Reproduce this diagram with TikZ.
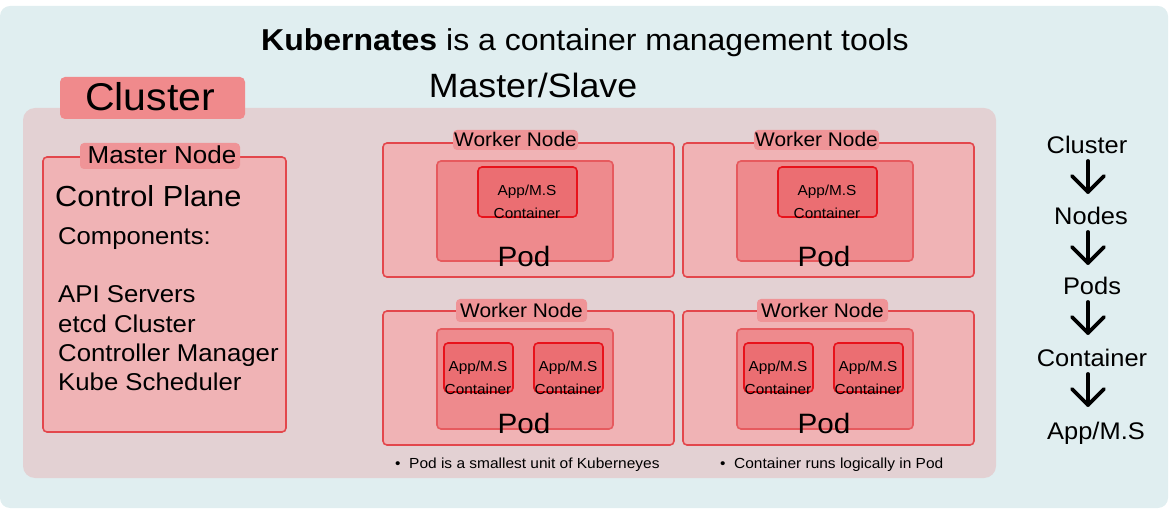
\documentclass[tikz,border=0pt]{standalone}
\usepackage{fontspec}
\setmainfont{Liberation Sans}[FakeStretch=1.06]
\definecolor{bgc}{HTML}{E0EEF0}
\definecolor{clc}{HTML}{E3D1D3}
\definecolor{cllab}{HTML}{F08A8C}
\definecolor{boxfill}{HTML}{F0B3B5}
\definecolor{boxline}{HTML}{E3474C}
\definecolor{podfill}{HTML}{EE8A8D}
\definecolor{podline}{HTML}{E65A5E}
\definecolor{ctfill}{HTML}{EB6E72}
\definecolor{ctline}{HTML}{E8121B}
\definecolor{wlab}{HTML}{EF9497}
\tikzset{
  nodebox/.style={draw=boxline,fill=boxfill,line width=1.6pt,rounded corners=4pt},
  podbox/.style={draw=podline,fill=podfill,line width=1.6pt,rounded corners=4pt},
  ctbox/.style={draw=ctline,fill=ctfill,line width=1.6pt,rounded corners=4pt},
  labbox/.style={fill=wlab,rounded corners=4pt},
  txt/.style={anchor=base,inner sep=0pt},
  hier/.style={anchor=base,inner sep=0pt,font=\fontsize{24}{26}\selectfont},
  darr/.style={line width=3.8pt,line cap=round,line join=round},
}
% #1 x, #2 y, #3 name, #4 label x offset, #5 label width, #6 label top offset, #7 label height, #8 text baseline offset
\newcommand{\worker}[8]{%
  \draw[nodebox] (#1,#2) rectangle ++(291,134);
  \fill[labbox] (#1+#4,#2+#6) rectangle ++(#5,#7);
  \node[txt,font=\fontsize{19.7}{21}\selectfont] (#3lab) at (#1+#4+#5/2,#2+#8) {Worker Node};
  \draw[podbox] (#1+54,#2+18) rectangle ++(176,100);
}
\begin{document}
\begin{tikzpicture}[x=1pt,y=-1pt]
\useasboundingbox (0,0) rectangle (1173,510);
\fill[bgc,rounded corners=10pt] (0,6) rectangle (1168,508);
\node[txt,font=\fontsize{30.2}{34}\selectfont] (title) at (585,51) {\textbf{Kubernates} is a container management tools};
\node[txt,font=\fontsize{33.7}{38}\selectfont] (ms) at (533,98) {Master/Slave};
\fill[clc,rounded corners=12pt] (23,108) rectangle (996,478);
\fill[cllab,rounded corners=5pt] (60,77) rectangle (245,119);
\node[txt,font=\fontsize{38.7}{42}\selectfont] (cluster) at (150,111) {Cluster};
% master
\draw[nodebox] (43,157) rectangle (286,432);
\fill[labbox] (80,143) rectangle (240,169);
\node[txt,font=\fontsize{24.5}{26}\selectfont] (mlab) at (162,164) {Master Node};
\node[txt,anchor=base west,font=\fontsize{29}{30}\selectfont] (cp) at (55,207) {Control Plane};
\node[txt,anchor=base west,font=\fontsize{24.2}{26}\selectfont] (comp) at (58,245) {Components:};
\node[txt,anchor=base west,font=\fontsize{24.3}{26}\selectfont] (l1) at (58,303) {API Servers};
\node[txt,anchor=base west,font=\fontsize{24.3}{26}\selectfont] (l2) at (58,333) {etcd Cluster};
\node[txt,anchor=base west,font=\fontsize{24.3}{26}\selectfont] (l3) at (58,362) {Controller Manager};
\node[txt,anchor=base west,font=\fontsize{24.3}{26}\selectfont] (l4) at (58,391) {Kube Scheduler};
% workers
\worker{383}{143}{wa}{70}{125}{-13}{20}{4}
\worker{683}{143}{wb}{71}{125}{-13}{20}{4}
\worker{383}{311}{wc}{73}{131}{-12}{23}{7}
\worker{683}{311}{wd}{74}{131}{-12}{23}{7}
% single containers
\draw[ctbox] (478,167) rectangle (577,217);
\draw[ctbox] (778,167) rectangle (877,217);
% double containers
\draw[ctbox] (444,343) rectangle (513,392);
\draw[ctbox] (534,343) rectangle (603,392);
\draw[ctbox] (744,343) rectangle (813,392);
\draw[ctbox] (834,343) rectangle (903,392);
% container texts
\foreach \cx/\by/\nm in {527/196/ca,827/196/cb,478/372/cc,568/372/cd,778/372/ce,868/372/cf}{
  \node[txt,font=\fontsize{14.5}{16}\selectfont] (\nm a) at (\cx,\by) {App/M.S};
  \node[txt,font=\fontsize{14.5}{16}\selectfont] (\nm b) at (\cx,\by+23) {Container};
}
% pod texts
\foreach \px/\py/\nm in {524/267/pa,824/267/pb,524/434/pc,824/434/pd}{
  \node[txt,font=\fontsize{28}{30}\selectfont] (\nm) at (\px,\py) {Pod};
}
\node[txt,anchor=base west,font=\fontsize{14.6}{16}\selectfont] (b1) at (395,468) {\textbullet\ \ Pod is a smallest unit of Kuberneyes};
\node[txt,anchor=base west,font=\fontsize{14.6}{16}\selectfont] (b2) at (720,468) {\textbullet\ \ Container runs logically in Pod};
% hierarchy
\node[hier] (h1) at (1087,154) {Cluster};
\node[hier] (h2) at (1091,225) {Nodes};
\node[hier] (h3) at (1092,295) {Pods};
\node[hier] (h4) at (1092,367) {Container};
\node[hier] (h5) at (1096,440) {App/M.S};
\foreach \a/\b in {h1/h2,h2/h3,h3/h4,h4/h5}{
  \coordinate (s) at ([yshift=-7pt]\a.base -| 1088,0);
  \coordinate (e) at ([yshift=-38pt]\a.base -| 1088,0);
  \draw[darr] (s) -- (e);
  \draw[darr] ([shift={(-16,-16)}]e) -- (e) -- ([shift={(16,-16)}]e);
}
\end{tikzpicture}
\end{document}
